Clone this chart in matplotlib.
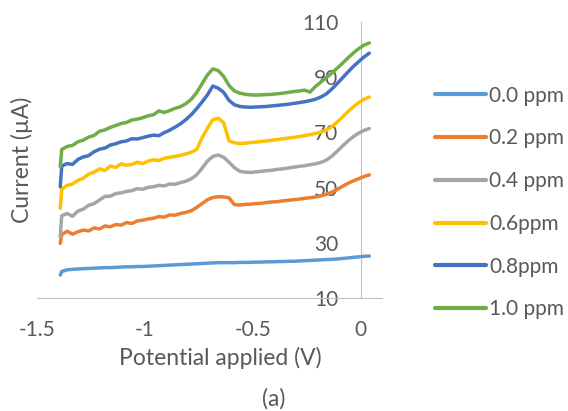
import numpy as np
import matplotlib
matplotlib.use("Agg")
import matplotlib.pyplot as plt

# -------------------------
# dados
# -------------------------

potential = [-1.392, -1.385, -1.36, -1.335, -1.31, -1.285, -1.26, -1.235, -1.21, -1.185,
             -1.16, -1.135, -1.11, -1.085, -1.06, -1.035, -1.01, -0.985, -0.96, -0.935,
             -0.91, -0.885, -0.86, -0.835, -0.81, -0.785, -0.76, -0.735, -0.71, -0.685,
             -0.66, -0.635, -0.61, -0.585, -0.56, -0.535, -0.51, -0.485, -0.46, -0.435,
             -0.41, -0.385, -0.36, -0.335, -0.31, -0.285, -0.26, -0.235, -0.21, -0.185,
             -0.16, -0.135, -0.11, -0.085, -0.06, -0.035, -0.01, 0.015, 0.04]

ppm_00 = [18.3, 19.6, 20.2, 20.4, 20.5, 20.6, 20.7, 20.8, 20.9, 21.0,
          21.0, 21.1, 21.2, 21.3, 21.3, 21.4, 21.4, 21.5, 21.6, 21.7,
          21.8, 21.9, 22.0, 22.1, 22.2, 22.3, 22.4, 22.5, 22.6, 22.7,
          22.8, 22.8, 22.8, 22.8, 22.9, 22.9, 22.9, 23.0, 23.0, 23.1,
          23.1, 23.2, 23.2, 23.3, 23.3, 23.4, 23.5, 23.6, 23.7, 23.8,
          23.9, 24.0, 24.1, 24.3, 24.5, 24.7, 24.9, 25.1, 25.2]

ppm_02 = [29.8, 33.0, 34.2, 33.1, 34.0, 34.6, 34.3, 35.4, 35.0, 36.1,
          35.8, 36.6, 36.4, 37.3, 37.0, 37.9, 38.2, 38.6, 38.9, 39.5,
          39.3, 40.1, 40.0, 40.6, 41.0, 41.6, 42.8, 44.2, 45.6, 46.4,
          46.7, 46.6, 46.3, 43.8, 43.7, 43.9, 44.0, 44.2, 44.3, 44.6,
          44.8, 44.9, 45.2, 45.4, 45.6, 45.8, 46.1, 46.3, 46.6, 47.0,
          47.5, 48.3, 49.3, 50.4, 51.5, 52.4, 53.2, 54.0, 54.6]

ppm_04 = [32.2, 39.8, 40.6, 39.6, 41.5, 42.2, 43.6, 44.2, 45.5, 46.8,
          46.9, 47.8, 48.1, 48.6, 48.9, 49.6, 49.4, 50.1, 50.3, 50.8,
          50.6, 51.3, 51.2, 51.8, 52.3, 53.2, 54.6, 57.0, 59.6, 61.3,
          61.8, 61.0, 59.2, 57.2, 55.9, 55.6, 55.5, 55.7, 55.9, 56.1,
          56.3, 56.6, 56.8, 57.1, 57.4, 57.7, 57.9, 58.3, 58.6, 59.1,
          59.9, 61.3, 63.1, 65.0, 66.8, 68.4, 69.7, 70.7, 71.4]

ppm_06 = [42.5, 49.4, 50.8, 51.3, 52.6, 53.4, 54.9, 55.6, 56.8, 56.2,
          57.8, 57.3, 58.6, 58.1, 58.4, 59.2, 58.7, 59.6, 60.1, 59.8,
          60.6, 61.0, 61.3, 61.7, 62.2, 62.8, 63.8, 68.0, 71.5, 74.6,
          75.1, 73.5, 67.0, 66.2, 66.0, 66.1, 66.3, 66.5, 66.7, 66.9,
          67.2, 67.4, 67.7, 67.9, 68.2, 68.5, 68.8, 69.2, 69.6, 70.1,
          70.8, 72.0, 73.6, 75.5, 77.4, 79.2, 80.8, 82.0, 82.8]

ppm_08 = [50.3, 57.8, 58.7, 58.4, 60.2, 61.1, 61.6, 63.0, 63.9, 64.3,
          65.4, 65.9, 66.6, 66.9, 67.7, 67.6, 68.1, 68.6, 69.0, 68.8,
          69.9, 70.8, 71.9, 73.1, 74.6, 76.4, 78.6, 81.0, 83.6, 86.8,
          86.0, 84.5, 81.6, 80.0, 79.4, 79.2, 79.1, 79.2, 79.3, 79.4,
          79.6, 79.8, 80.0, 80.2, 80.5, 80.8, 81.1, 81.5, 82.0, 82.8,
          83.9, 85.6, 87.6, 89.7, 91.8, 93.8, 95.6, 97.3, 98.7]

ppm_10 = [57.6, 63.8, 64.9, 65.3, 66.6, 67.2, 68.3, 68.9, 70.4, 70.9,
          71.8, 72.5, 73.2, 73.6, 74.5, 74.8, 75.3, 76.0, 76.4, 77.8,
          77.2, 77.9, 78.7, 79.3, 80.4, 82.0, 84.4, 87.6, 90.8, 93.0,
          92.4, 90.3, 87.0, 85.0, 84.2, 83.8, 83.6, 83.5, 83.6, 83.7,
          83.8, 84.0, 84.2, 84.5, 84.8, 85.0, 85.3, 84.6, 86.6, 88.2,
          89.8, 91.4, 93.2, 95.0, 96.9, 98.7, 100.3, 101.6, 102.4]

series = [ppm_00, ppm_02, ppm_04, ppm_06, ppm_08, ppm_10]
labels = ["0.0 ppm", "0.2 ppm", "0.4 ppm", "0.6ppm", "0.8ppm", "1.0 ppm"]
cores = ["#5B9BD5", "#ED7D31", "#A5A5A5", "#FFC000", "#4472C4", "#70AD47"]

yticks = [10, 30, 50, 70, 90, 110]
xticks = [-1.5, -1, -0.5, 0]
xticklabels = ["-1.5", "-1", "-0.5", "0"]

# -------------------------
# figura
# -------------------------

plt.rcParams['font.family'] = ['Lato', 'DejaVu Sans']
texto = "#595959"

fig = plt.figure(figsize=(5.68, 4.11), dpi=100)
ax = fig.add_axes([0.065, 0.275, 0.608, 0.6715])

for i in range(len(series)):
    ax.plot(potential, series[i], color=cores[i], lw=2.5, label=labels[i],
            solid_joinstyle='round', solid_capstyle='round')

ax.set_xlim(-1.5, 0.1)
ax.set_ylim(10, 110)
ax.set_xticks(xticks)
ax.set_xticklabels(xticklabels)
ax.set_yticks(yticks)

for s in ['top', 'right']:
    ax.spines[s].set_visible(False)
ax.spines['left'].set_position(('data', 0))
ax.spines['left'].set_color('#bfbfbf')
ax.spines['bottom'].set_color('#bfbfbf')
ax.spines['left'].set_zorder(0)

ax.tick_params(axis='both', length=0, labelsize=15, labelcolor=texto)
ax.tick_params(axis='y', pad=16)
ax.tick_params(axis='x', pad=16)

ax.set_ylabel("Current (µA)", fontsize=16.5, color=texto)
ax.yaxis.set_label_coords(-0.012, 0.5)

fig.text(220/568, 1 - 358/411, "Potential applied (V)", ha='center', va='center',
         fontsize=16.5, color=texto)
fig.text(274/568, 1 - 399/411, "(a)", ha='center', va='center',
         fontsize=16.5, color=texto)

leg = ax.legend(loc='upper left', bbox_to_anchor=(416/568, 1 - 67/411),
                bbox_transform=fig.transFigure, frameon=False, fontsize=15,
                handlelength=2.45, handletextpad=0.15, labelspacing=1.09,
                labelcolor=texto)
for linha in leg.get_lines():
    linha.set_linewidth(3)

fig.savefig("out.png", dpi=100)
